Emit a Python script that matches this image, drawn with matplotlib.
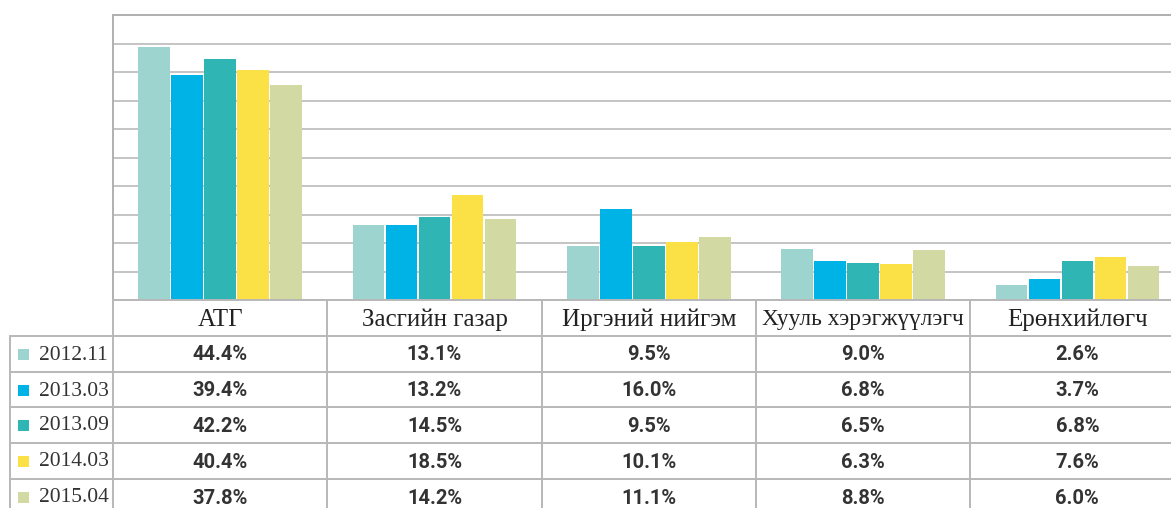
import matplotlib.pyplot as plt
import numpy as np

# Data
categories = ['АТГ', 'Засгийн газар', 'Иргэний нийгэм', 'Хууль хэрэгжүүлэгч', 'Ерөнхийлөгч']
periods = ['2012.11', '2013.03', '2013.09', '2014.03', '2015.04']
v_2012_11 = [44.4, 13.1, 9.5, 9.0, 2.6]
v_2013_03 = [39.4, 13.2, 16.0, 6.8, 3.7]
v_2013_09 = [42.2, 14.5, 9.5, 6.5, 6.8]
v_2014_03 = [40.4, 18.5, 10.1, 6.3, 7.6]
v_2015_04 = [37.8, 14.2, 11.1, 8.8, 6.0]
series = [v_2012_11, v_2013_03, v_2013_09, v_2014_03, v_2015_04]
colors = ['#9dd4cf', '#00b3e6', '#2fb6b4', '#fbe046', '#d3d9a2']

W, H = 1171, 508
fig = plt.figure(figsize=(W / 100, H / 100), dpi=100)

# plot area in pixel terms
left, right, top, bottom = 113, 1171, 15, 300
col_w = 214.3
ax = fig.add_axes([left / W, 1 - bottom / H, (right - left) / W, (bottom - top) / H])
x = np.arange(len(categories))
width = 0.154
for i, (vals, c) in enumerate(zip(series, colors)):
    ax.bar(x + (i - 2) * width, vals, width * 0.96, color=c, zorder=3)
ax.set_ylim(0, 50)
ax.set_xlim(-0.5, -0.5 + (right - left) / col_w)
ax.set_yticks(np.arange(0, 51, 5))
ax.yaxis.grid(True, color='#c4c4c4', lw=1.4, zorder=0)
ax.tick_params(left=False, bottom=False, labelleft=False, labelbottom=False)
for s in ['right', 'bottom']:
    ax.spines[s].set_visible(False)
for s in ['left', 'top']:
    ax.spines[s].set_color('#b0b0b0')
    ax.spines[s].set_linewidth(1.4)

# table overlay in pixel coords
tab = fig.add_axes([0, 0, 1, 1])
tab.set_xlim(0, W)
tab.set_ylim(H, 0)
tab.axis('off')
lc = '#b8b8b8'
row_tops = [300, 336, 372, 407, 443, 479]
row_h = 36
tab.plot([left, W], [300, 300], color=lc, lw=1.4)
for y in row_tops[1:]:
    tab.plot([10, W], [y, y], color=lc, lw=1.4)
tab.plot([10, 10], [336, H], color=lc, lw=1.4)
for j in range(len(categories)):
    xc = left + j * col_w
    tab.plot([xc, xc], [300, H], color=lc, lw=1.4)

serif = ['Liberation Serif', 'DejaVu Serif']
sans = ['Roboto', 'DejaVu Sans']
head_sizes = [18, 18, 18, 16.8, 18]
for j, cat in enumerate(categories):
    xc = left + (j + 0.5) * col_w
    tab.text(xc, 320, cat, ha='center', va='center', fontsize=head_sizes[j],
             family=serif, color='#222222')
for i, (p, vals, c) in enumerate(zip(periods, series, colors)):
    yc = row_tops[i + 1] + row_h / 2
    tab.add_patch(plt.Rectangle((18, yc - 5), 11, 11, color=c, lw=0))
    tab.text(39, yc + 1, p, ha='left', va='center', fontsize=15.5,
             family=serif, color='#333333')
    for j, v in enumerate(vals):
        xc = left + (j + 0.5) * col_w
        tab.text(xc, yc + 1, f'{v:.1f}%', ha='center', va='center', fontsize=14.5,
                 family=sans, fontweight='bold', color='#333333')

fig.savefig('out.png', dpi=100)
